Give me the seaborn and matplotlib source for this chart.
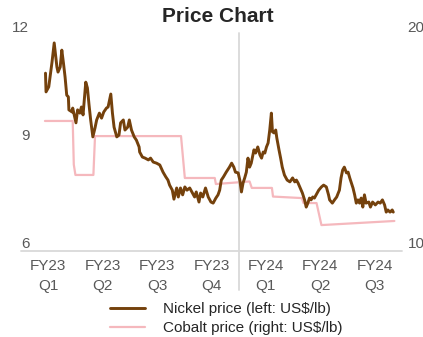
import numpy as np
import pandas as pd
import seaborn as sns
import matplotlib.pyplot as plt

# x = position in quarters from the start of FY23 Q1
nickel_x = [0.45, 0.46, 0.51, 0.57, 0.61, 0.66, 0.68, 0.72, 0.75, 0.78, 0.81, 0.84, 0.87, 0.88,
            0.94, 0.95, 1.01, 1.04, 1.08, 1.11, 1.14, 1.19, 1.22, 1.25, 1.28, 1.32, 1.36, 1.39,
            1.44, 1.48, 1.52, 1.57, 1.60, 1.65, 1.68, 1.71, 1.76, 1.80, 1.83, 1.88, 1.91, 1.96,
            1.99, 2.03, 2.08, 2.12, 2.17, 2.18, 2.23, 2.28, 2.34, 2.38, 2.43, 2.49, 2.55, 2.61,
            2.66, 2.70, 2.73, 2.78, 2.81, 2.86, 2.89, 2.93, 2.97, 3.01, 3.05, 3.10, 3.15, 3.19,
            3.22, 3.27, 3.30, 3.34, 3.39, 3.44, 3.49, 3.53, 3.58, 3.62, 3.65, 3.68, 3.72, 3.77,
            3.83, 3.87, 3.91, 3.94, 3.99, 4.02, 4.05, 4.08, 4.11, 4.14, 4.17, 4.20, 4.23, 4.28,
            4.31, 4.35, 4.39, 4.42, 4.45, 4.48, 4.51, 4.54, 4.57, 4.60, 4.62, 4.65, 4.68, 4.70,
            4.74, 4.77, 4.80, 4.84, 4.89, 4.94, 4.99, 5.03, 5.06, 5.09, 5.13, 5.17, 5.21, 5.24,
            5.27, 5.30, 5.33, 5.36, 5.39, 5.44, 5.47, 5.52, 5.56, 5.61, 5.65, 5.67, 5.72, 5.76,
            5.80, 5.85, 5.88, 5.91, 5.94, 5.98, 6.01, 6.04, 6.07, 6.10, 6.13, 6.16, 6.19, 6.22,
            6.25, 6.28, 6.31, 6.34, 6.39, 6.42, 6.46, 6.51, 6.56, 6.60, 6.64, 6.68, 6.71, 6.74,
            6.78, 6.82, 6.84]
nickel_price = [10.94, 10.42, 10.56, 11.25, 11.78, 11.11, 10.97, 11.11, 11.58, 11.22, 10.83, 10.33,
                10.28, 9.92, 9.86, 9.97, 9.56, 9.92, 9.83, 10.00, 9.78, 10.69, 10.53, 10.06, 9.64,
                9.17, 9.42, 9.64, 9.83, 9.69, 9.86, 9.97, 10.00, 10.36, 9.83, 9.44, 9.17, 9.22,
                9.56, 9.64, 9.36, 9.44, 9.64, 9.36, 9.17, 9.08, 8.89, 8.75, 8.61, 8.58, 8.53, 8.58,
                8.47, 8.44, 8.39, 8.19, 8.06, 7.97, 7.83, 7.69, 7.44, 7.75, 7.50, 7.75, 7.56, 7.78,
                7.69, 7.75, 7.61, 7.50, 7.64, 7.36, 7.61, 7.50, 7.75, 7.50, 7.36, 7.33, 7.47, 7.56,
                7.69, 7.97, 8.06, 8.19, 8.33, 8.44, 8.33, 8.19, 8.17, 7.97, 7.64, 7.89, 8.03, 8.19,
                8.58, 8.33, 8.44, 8.81, 8.72, 8.89, 8.67, 8.58, 8.75, 8.72, 8.89, 9.00, 9.36, 9.83,
                9.31, 9.28, 9.36, 9.14, 8.81, 8.58, 8.33, 8.11, 7.97, 7.92, 8.03, 7.92, 7.97, 7.89,
                7.75, 7.61, 7.42, 7.22, 7.33, 7.47, 7.42, 7.50, 7.47, 7.61, 7.69, 7.78, 7.83, 7.78,
                7.56, 7.42, 7.33, 7.42, 7.50, 7.69, 8.03, 8.25, 8.33, 8.17, 8.19, 8.03, 7.89, 7.75,
                7.56, 7.33, 7.42, 7.33, 7.47, 7.22, 7.56, 7.33, 7.36, 7.22, 7.36, 7.28, 7.36, 7.33,
                7.42, 7.28, 7.08, 7.14, 7.08, 7.14, 7.08]

cobalt_x = [0.44, 0.95, 0.97, 1.00, 1.33, 1.36, 2.94, 3.01, 3.56, 3.58, 4.20, 4.24, 4.61, 4.63,
            5.16, 5.19, 5.43, 5.52, 6.86]
cobalt_price = [16.02, 16.02, 14.00, 13.52, 13.52, 15.32, 15.32, 13.38, 13.38, 13.10, 13.22, 12.92,
                12.92, 12.52, 12.45, 12.22, 12.22, 11.20, 11.39]

quarter_labels = ["FY23\nQ1", "FY23\nQ2", "FY23\nQ3", "FY23\nQ4", "FY24\nQ1", "FY24\nQ2", "FY24\nQ3"]

nickel = pd.DataFrame({"x": nickel_x, "price": nickel_price})
cobalt = pd.DataFrame({"x": cobalt_x, "price": cobalt_price})

sns.set_style("white")
plt.rcParams['font.family'] = ['Liberation Sans', 'DejaVu Sans']

grey = "#595959"
brown = "#74410c"
pink = "#f5b8bd"

fig = plt.figure(figsize=(4.23, 3.37), dpi=100)
ax = fig.add_axes([21 / 423, 1 - 251 / 337, 381 / 423, 216 / 337])
ax2 = ax.twinx()

sns.lineplot(data=cobalt, x="x", y="price", ax=ax2, color=pink, linewidth=1.6, label="Cobalt price (right: US$/lb)", legend=False)
sns.lineplot(data=nickel, x="x", y="price", ax=ax, color=brown, linewidth=2.1, label="Nickel price (left: US$/lb)", legend=False)
ax.set_zorder(ax2.get_zorder() + 1)
ax.patch.set_visible(False)

ax.set_xlim(0, 7)
ax.set_ylim(6, 12)
ax2.set_ylim(10, 20)
ax.set_xlabel("")
ax.set_ylabel("")
ax2.set_ylabel("")

ax.set_xticks(np.arange(len(quarter_labels)) + 0.5)
ax.set_xticklabels(quarter_labels, fontsize=11, color=grey, linespacing=1.5)
ax.set_yticks([6, 9, 12])
ax.set_yticklabels(["6", "9", "12"], fontsize=11, color=grey)
ax2.set_yticks([10, 20])
ax2.set_yticklabels(["10", "20"], fontsize=11, color=grey)
for lab in ax.get_yticklabels() + ax2.get_yticklabels():
    lab.set_verticalalignment("bottom")
ax.tick_params(axis="y", length=0, pad=-6)
ax.tick_params(axis="x", length=0, pad=6)
ax2.tick_params(axis="y", length=0, pad=4)

for a in (ax, ax2):
    for s in a.spines.values():
        s.set_visible(False)
ax.axhline(6, color="#d9d9d9", linewidth=1.3, clip_on=False)
ax.axvline(4.0, ymin=-0.18, ymax=1.01, color="#d9d9d9", linewidth=1.3, clip_on=False, zorder=0)

fig.text(218 / 423, 1 - 16 / 337, "Price Chart", ha="center", va="center", fontsize=15, fontweight="bold")

h1, l1 = ax.get_legend_handles_labels()
h2, l2 = ax2.get_legend_handles_labels()
fig.legend(h1 + h2, l1 + l2, loc="upper center", bbox_to_anchor=(226 / 423, 1 - 296 / 337), frameon=False,
           fontsize=11, handlelength=2.3, handletextpad=1.2, labelspacing=0.35, borderaxespad=0)

fig.savefig("out.png", dpi=100)
